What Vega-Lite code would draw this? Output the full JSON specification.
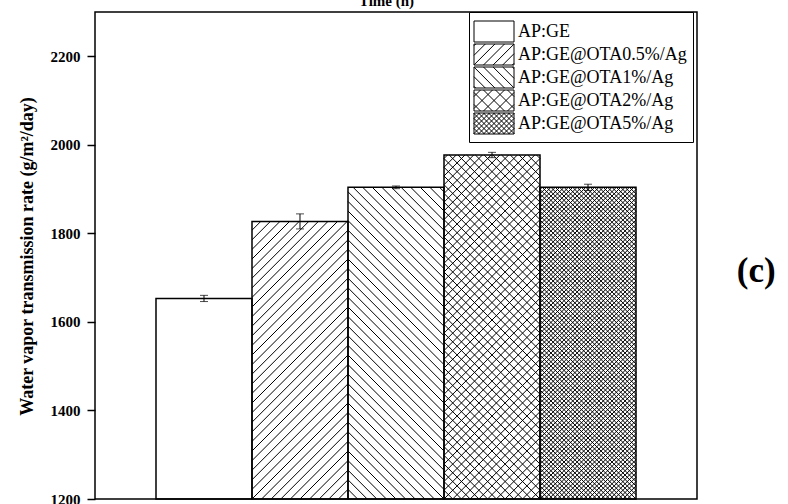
{
  "$schema": "https://vega.github.io/schema/vega-lite/v6.json",
  "width": 602,
  "height": 487,
  "autosize": "none",
  "padding": {"left": 95, "top": 12, "right": 91, "bottom": 5},
  "background": "white",
  "title": {"text": "(c)", "orient": "right", "anchor": "middle", "angle": 0, "align": "left", "baseline": "middle", "offset": 1, "dy": 15, "fontSize": 35, "font": "Liberation Serif", "fontWeight": "bold", "color": "black"},
  "data": {"values": [
    {"sample": "AP:GE", "value": 1653, "err": 7},
    {"sample": "AP:GE@OTA0.5%/Ag", "value": 1827, "err": 17},
    {"sample": "AP:GE@OTA1%/Ag", "value": 1904, "err": 3},
    {"sample": "AP:GE@OTA2%/Ag", "value": 1977, "err": 6},
    {"sample": "AP:GE@OTA5%/Ag", "value": 1904, "err": 7}
  ]},
  "config": {
    "font": "Liberation Serif",
    "view": {"stroke": "black", "strokeWidth": 1.5}
  },
  "resolve": {"scale": {"shape": "independent"}},
  "layer": [
    {
      "mark": {"type": "point", "filled": false, "stroke": "black", "strokeWidth": 1, "size": 4, "opacity": 1, "clip": true},
      "encoding": {
        "x": {"field": "sample", "type": "nominal", "sort": null, "title": "Time (h)",
          "scale": {"type": "band", "paddingInner": 0, "paddingOuter": 0.6354},
          "axis": {"orient": "top", "labels": false, "ticks": false, "domain": false, "grid": false, "titleFont": "Liberation Serif", "titleFontSize": 15, "titleFontWeight": "bold", "titleColor": "black", "titleX": 291, "titleY": -7, "titleBaseline": "alphabetic", "titleAlign": "center"}},
        "y": {"datum": 1200, "type": "quantitative", "title": "Water vapor transmission rate (g/m²/day)",
          "scale": {"domain": [1200, 2300], "nice": false, "zero": false}},
        "shape": {"field": "sample", "type": "nominal", "sort": null, "legend": null,
          "scale": {
            "range": [
              "M0,0",
              "M-48,-268.8l8.8,-8.8m-8.8,18.4l18.4,-18.4m-18.4,28l28,-28m-28,37.6l37.6,-37.6m-37.6,47.2l47.2,-47.2m-47.2,56.8l56.8,-56.8m-56.8,66.4l66.4,-66.4m-66.4,76l76,-76m-76,85.6l85.6,-85.6m-85.6,95.2l95.2,-95.2m-95.2,104.8l96,-96m-96,105.6l96,-96m-96,105.6l96,-96m-96,105.6l96,-96m-96,105.6l96,-96m-96,105.6l96,-96m-96,105.6l96,-96m-96,105.6l96,-96m-96,105.6l96,-96m-96,105.6l96,-96m-96,105.6l96,-96m-96,105.6l96,-96m-96,105.6l96,-96m-96,105.6l96,-96m-96,105.6l96,-96m-96,105.6l96,-96m-96,105.6l96,-96m-96,105.6l96,-96m-96,105.6l96,-96m-96,105.6l96,-96m-96,105.6l96,-96m-96,105.6l96,-96m-96,105.6l96,-96m-96,105.6l96,-96m-96,105.6l96,-96m-96,105.6l96,-96m-96,105.6l96,-96m-96,105.6l96,-96m-96,105.6l96,-96m-96,105.6l96,-96m-96,105.6l96,-96m-96,105.6l96,-96m-96,105.6",
              "M48,-307.2l-4.48,-4.48m4.48,14.08l-14.08,-14.08m14.08,23.68l-23.68,-23.68m23.68,33.28l-33.28,-33.28m33.28,42.88l-42.88,-42.88m42.88,52.48l-52.48,-52.48m52.48,62.08l-62.08,-62.08m62.08,71.68l-71.68,-71.68m71.68,81.28l-81.28,-81.28m81.28,90.88l-90.88,-90.88m90.88,100.48l-96,-96m96,105.6l-96,-96m96,105.6l-96,-96m96,105.6l-96,-96m96,105.6l-96,-96m96,105.6l-96,-96m96,105.6l-96,-96m96,105.6l-96,-96m96,105.6l-96,-96m96,105.6l-96,-96m96,105.6l-96,-96m96,105.6l-96,-96m96,105.6l-96,-96m96,105.6l-96,-96m96,105.6l-96,-96m96,105.6l-96,-96m96,105.6l-96,-96m96,105.6l-96,-96m96,105.6l-96,-96m96,105.6l-96,-96m96,105.6l-96,-96m96,105.6l-96,-96m96,105.6l-96,-96m96,105.6l-96,-96m96,105.6l-96,-96m96,105.6l-96,-96m96,105.6l-96,-96m96,105.6l-96,-96m96,105.6l-96,-96m96,105.6l-96,-96m96,105.6l-96,-96m96,105.6l-96,-96m96,105.6l-96,-96m96,105.6l-96,-96m96,105.6l-96,-96m96,105.6l-96,-96m96,105.6",
              "M-48,-340.5l3.5,-3.5m-3.5,12.23l12.23,-12.23m-12.23,20.96l20.96,-20.96m-20.96,29.69l29.69,-29.69m-29.69,38.42l38.42,-38.42m-38.42,47.15l47.15,-47.15m-47.15,55.88l55.88,-55.88m-55.88,64.61l64.61,-64.61m-64.61,73.34l73.34,-73.34m-73.34,82.07l82.07,-82.07m-82.07,90.8l90.8,-90.8m-90.8,99.53l96,-96m-96,104.73l96,-96m-96,104.73l96,-96m-96,104.73l96,-96m-96,104.73l96,-96m-96,104.73l96,-96m-96,104.73l96,-96m-96,104.73l96,-96m-96,104.73l96,-96m-96,104.73l96,-96m-96,104.73l96,-96m-96,104.73l96,-96m-96,104.73l96,-96m-96,104.73l96,-96m-96,104.73l96,-96m-96,104.73l96,-96m-96,104.73l96,-96m-96,104.73l96,-96m-96,104.73l96,-96m-96,104.73l96,-96m-96,104.73l96,-96m-96,104.73l96,-96m-96,104.73l96,-96m-96,104.73l96,-96m-96,104.73l96,-96m-96,104.73l96,-96m-96,104.73l96,-96m-96,104.73l96,-96m-96,104.73l96,-96m-96,104.73l96,-96m-96,104.73l96,-96m-96,104.73l96,-96m-96,104.73l96,-96m-96,104.73l96,-96m-96,104.73l96,-96m-96,104.73l96,-96m-96,104.73l96,-96m-96,104.73l96,-96m-96,104.73l96,-96m-96,104.73l96,-96m-96,104.73l96,-96m-96,104.73M48,-340.5l-3.5,-3.5m3.5,12.23l-12.23,-12.23m12.23,20.96l-20.96,-20.96m20.96,29.69l-29.69,-29.69m29.69,38.42l-38.42,-38.42m38.42,47.15l-47.15,-47.15m47.15,55.88l-55.88,-55.88m55.88,64.61l-64.61,-64.61m64.61,73.34l-73.34,-73.34m73.34,82.07l-82.07,-82.07m82.07,90.8l-90.8,-90.8m90.8,99.53l-96,-96m96,104.73l-96,-96m96,104.73l-96,-96m96,104.73l-96,-96m96,104.73l-96,-96m96,104.73l-96,-96m96,104.73l-96,-96m96,104.73l-96,-96m96,104.73l-96,-96m96,104.73l-96,-96m96,104.73l-96,-96m96,104.73l-96,-96m96,104.73l-96,-96m96,104.73l-96,-96m96,104.73l-96,-96m96,104.73l-96,-96m96,104.73l-96,-96m96,104.73l-96,-96m96,104.73l-96,-96m96,104.73l-96,-96m96,104.73l-96,-96m96,104.73l-96,-96m96,104.73l-96,-96m96,104.73l-96,-96m96,104.73l-96,-96m96,104.73l-96,-96m96,104.73l-96,-96m96,104.73l-96,-96m96,104.73l-96,-96m96,104.73l-96,-96m96,104.73l-96,-96m96,104.73l-96,-96m96,104.73l-96,-96m96,104.73l-96,-96m96,104.73l-96,-96m96,104.73l-96,-96m96,104.73l-96,-96m96,104.73l-96,-96m96,104.73l-96,-96m96,104.73l-96,-96m96,104.73l-96,-96m96,104.73l-96,-96m96,104.73",
              "M-48,-309.48l2.2,-2.2m-2.2,6.56l6.56,-6.56m-6.56,10.92l10.92,-10.92m-10.92,15.28l15.28,-15.28m-15.28,19.64l19.64,-19.64m-19.64,24l24,-24m-24,28.36l28.36,-28.36m-28.36,32.72l32.72,-32.72m-32.72,37.08l37.08,-37.08m-37.08,41.44l41.44,-41.44m-41.44,45.8l45.8,-45.8m-45.8,50.16l50.16,-50.16m-50.16,54.52l54.52,-54.52m-54.52,58.88l58.88,-58.88m-58.88,63.24l63.24,-63.24m-63.24,67.6l67.6,-67.6m-67.6,71.96l71.96,-71.96m-71.96,76.32l76.32,-76.32m-76.32,80.68l80.68,-80.68m-80.68,85.04l85.04,-85.04m-85.04,89.4l89.4,-89.4m-89.4,93.76l93.76,-93.76m-93.76,98.12l96,-96m-96,100.36l96,-96m-96,100.36l96,-96m-96,100.36l96,-96m-96,100.36l96,-96m-96,100.36l96,-96m-96,100.36l96,-96m-96,100.36l96,-96m-96,100.36l96,-96m-96,100.36l96,-96m-96,100.36l96,-96m-96,100.36l96,-96m-96,100.36l96,-96m-96,100.36l96,-96m-96,100.36l96,-96m-96,100.36l96,-96m-96,100.36l96,-96m-96,100.36l96,-96m-96,100.36l96,-96m-96,100.36l96,-96m-96,100.36l96,-96m-96,100.36l96,-96m-96,100.36l96,-96m-96,100.36l96,-96m-96,100.36l96,-96m-96,100.36l96,-96m-96,100.36l96,-96m-96,100.36l96,-96m-96,100.36l96,-96m-96,100.36l96,-96m-96,100.36l96,-96m-96,100.36l96,-96m-96,100.36l96,-96m-96,100.36l96,-96m-96,100.36l96,-96m-96,100.36l96,-96m-96,100.36l96,-96m-96,100.36l96,-96m-96,100.36l96,-96m-96,100.36l96,-96m-96,100.36l96,-96m-96,100.36l96,-96m-96,100.36l96,-96m-96,100.36l96,-96m-96,100.36l96,-96m-96,100.36l96,-96m-96,100.36l96,-96m-96,100.36l96,-96m-96,100.36l96,-96m-96,100.36l96,-96m-96,100.36l96,-96m-96,100.36l96,-96m-96,100.36l96,-96m-96,100.36l96,-96m-96,100.36l96,-96m-96,100.36l96,-96m-96,100.36l96,-96m-96,100.36l96,-96m-96,100.36l96,-96m-96,100.36l96,-96m-96,100.36l96,-96m-96,100.36l96,-96m-96,100.36l96,-96m-96,100.36l96,-96m-96,100.36l96,-96m-96,100.36l96,-96m-96,100.36l96,-96m-96,100.36l96,-96m-96,100.36l96,-96m-96,100.36l96,-96m-96,100.36M48,-309.48l-2.2,-2.2m2.2,6.56l-6.56,-6.56m6.56,10.92l-10.92,-10.92m10.92,15.28l-15.28,-15.28m15.28,19.64l-19.64,-19.64m19.64,24l-24,-24m24,28.36l-28.36,-28.36m28.36,32.72l-32.72,-32.72m32.72,37.08l-37.08,-37.08m37.08,41.44l-41.44,-41.44m41.44,45.8l-45.8,-45.8m45.8,50.16l-50.16,-50.16m50.16,54.52l-54.52,-54.52m54.52,58.88l-58.88,-58.88m58.88,63.24l-63.24,-63.24m63.24,67.6l-67.6,-67.6m67.6,71.96l-71.96,-71.96m71.96,76.32l-76.32,-76.32m76.32,80.68l-80.68,-80.68m80.68,85.04l-85.04,-85.04m85.04,89.4l-89.4,-89.4m89.4,93.76l-93.76,-93.76m93.76,98.12l-96,-96m96,100.36l-96,-96m96,100.36l-96,-96m96,100.36l-96,-96m96,100.36l-96,-96m96,100.36l-96,-96m96,100.36l-96,-96m96,100.36l-96,-96m96,100.36l-96,-96m96,100.36l-96,-96m96,100.36l-96,-96m96,100.36l-96,-96m96,100.36l-96,-96m96,100.36l-96,-96m96,100.36l-96,-96m96,100.36l-96,-96m96,100.36l-96,-96m96,100.36l-96,-96m96,100.36l-96,-96m96,100.36l-96,-96m96,100.36l-96,-96m96,100.36l-96,-96m96,100.36l-96,-96m96,100.36l-96,-96m96,100.36l-96,-96m96,100.36l-96,-96m96,100.36l-96,-96m96,100.36l-96,-96m96,100.36l-96,-96m96,100.36l-96,-96m96,100.36l-96,-96m96,100.36l-96,-96m96,100.36l-96,-96m96,100.36l-96,-96m96,100.36l-96,-96m96,100.36l-96,-96m96,100.36l-96,-96m96,100.36l-96,-96m96,100.36l-96,-96m96,100.36l-96,-96m96,100.36l-96,-96m96,100.36l-96,-96m96,100.36l-96,-96m96,100.36l-96,-96m96,100.36l-96,-96m96,100.36l-96,-96m96,100.36l-96,-96m96,100.36l-96,-96m96,100.36l-96,-96m96,100.36l-96,-96m96,100.36l-96,-96m96,100.36l-96,-96m96,100.36l-96,-96m96,100.36l-96,-96m96,100.36l-96,-96m96,100.36l-96,-96m96,100.36l-96,-96m96,100.36l-96,-96m96,100.36l-96,-96m96,100.36l-96,-96m96,100.36l-96,-96m96,100.36l-96,-96m96,100.36l-96,-96m96,100.36l-96,-96m96,100.36l-96,-96m96,100.36l-96,-96m96,100.36l-96,-96m96,100.36l-96,-96m96,100.36l-96,-96m96,100.36l-96,-96m96,100.36l-96,-96m96,100.36l-96,-96m96,100.36l-96,-96m96,100.36l-96,-96m96,100.36l-96,-96m96,100.36"
            ]
          }
        }
      }
    },
    {
      "mark": {"type": "bar", "fill": "transparent", "stroke": "black", "strokeWidth": 1.5},
      "encoding": {
        "x": {"field": "sample", "type": "nominal", "sort": null, "title": "Time (h)",
          "scale": {"type": "band", "paddingInner": 0, "paddingOuter": 0.6354},
          "axis": {"orient": "top", "labels": false, "ticks": false, "domain": false, "grid": false, "titleFont": "Liberation Serif", "titleFontSize": 15, "titleFontWeight": "bold", "titleColor": "black", "titleX": 291, "titleY": -7, "titleBaseline": "alphabetic", "titleAlign": "center"}},
        "y": {"field": "value", "type": "quantitative", "title": "Water vapor transmission rate (g/m²/day)",
          "scale": {"domain": [1200, 2300], "nice": false, "zero": false},
          "axis": {"values": [1200, 1400, 1600, 1800, 2000, 2200], "format": "d", "domain": false, "grid": false, "tickSize": 8, "tickWidth": 1.5, "tickColor": "black", "labelFont": "Liberation Serif", "labelFontSize": 15, "labelFontWeight": "bold", "labelColor": "black", "labelPadding": 7, "labelOverlap": false, "labelFlush": false, "titleFont": "Liberation Serif", "titleFontSize": 18, "titleFontWeight": "bold", "titleColor": "black", "titleX": -63, "titleY": 244, "titleAngle": -90, "titleBaseline": "alphabetic", "titleAlign": "center"}},
        "y2": {"datum": 1200}
      }
    },
    {
      "mark": {"type": "errorbar", "color": "black", "thickness": 1, "ticks": {"size": 8, "color": "black", "thickness": 1}},
      "encoding": {
        "x": {"field": "sample", "type": "nominal", "sort": null, "title": "Time (h)",
          "scale": {"type": "band", "paddingInner": 0, "paddingOuter": 0.6354}},
        "y": {"field": "value", "type": "quantitative", "title": "Water vapor transmission rate (g/m²/day)",
          "scale": {"domain": [1200, 2300], "nice": false, "zero": false}},
        "yError": {"field": "err"}
      }
    },
    {
      "mark": {"type": "point", "filled": false, "stroke": "black", "strokeWidth": 1, "size": 4, "opacity": 1, "clip": true},
      "encoding": {
        "x": {"field": "sample", "type": "nominal", "sort": null, "title": "Time (h)",
          "scale": {"type": "band", "paddingInner": 0, "paddingOuter": 0.6354}},
        "y": {"datum": 2450, "type": "quantitative", "title": "Water vapor transmission rate (g/m²/day)",
          "scale": {"domain": [1200, 2300], "nice": false, "zero": false}},
        "shape": {"field": "sample", "type": "nominal", "sort": null,
          "scale": {
            "range": [
              "M-20,-10.5H20V10.5H-20Z",
              "M-20,-10.5H20V10.5H-20ZM-20,-8.8L-18.3,-10.5M-20,0.8L-8.7,-10.5M-20,10.4L0.9,-10.5M-10.5,10.5L10.5,-10.5M-0.9,10.5L20,-10.4M8.7,10.5L20,-0.8M18.3,10.5L20,8.8",
              "M-20,-10.5H20V10.5H-20ZM20,-8.8L18.3,-10.5M20,0.8L8.7,-10.5M20,10.4L-0.9,-10.5M10.5,10.5L-10.5,-10.5M0.9,10.5L-20,-10.4M-8.7,10.5L-20,-0.8M-18.3,10.5L-20,8.8",
              "M-20,-10.5H20V10.5H-20ZM-20,-4L-13.5,-10.5M-20,8L-1.5,-10.5M-10.5,10.5L10.5,-10.5M1.5,10.5L20,-8M13.5,10.5L20,4M20,-4L13.5,-10.5M20,8L1.5,-10.5M10.5,10.5L-10.5,-10.5M-1.5,10.5L-20,-8M-13.5,10.5L-20,4",
              "M-20,-10.5H20V10.5H-20ZM-20,-10L-19.5,-10.5M-20,-5L-14.5,-10.5M-20,0L-9.5,-10.5M-20,5L-4.5,-10.5M-20,10L0.5,-10.5M-15.5,10.5L5.5,-10.5M-10.5,10.5L10.5,-10.5M-5.5,10.5L15.5,-10.5M-0.5,10.5L20,-10M4.5,10.5L20,-5M9.5,10.5L20,0M14.5,10.5L20,5M19.5,10.5L20,10M20,-10L19.5,-10.5M20,-5L14.5,-10.5M20,0L9.5,-10.5M20,5L4.5,-10.5M20,10L-0.5,-10.5M15.5,10.5L-5.5,-10.5M10.5,10.5L-10.5,-10.5M5.5,10.5L-15.5,-10.5M0.5,10.5L-20,-10M-4.5,10.5L-20,-5M-9.5,10.5L-20,0M-14.5,10.5L-20,5M-19.5,10.5L-20,10"
            ]
          },
          "legend": {
            "orient": "none", "legendX": 374, "legendY": 0,
            "title": " ", "titleFontSize": 3, "titlePadding": 1.5,
            "padding": 6, "strokeColor": "black", "fillColor": "white",
            "symbolSize": 4, "symbolOffset": 10, "labelOffset": 15, "rowPadding": -3,
            "symbolStrokeColor": "black", "symbolStrokeWidth": 1, "symbolFillColor": "white",
            "labelFont": "Liberation Serif", "labelFontSize": 18, "labelColor": "black", "labelLimit": 0
          }
        }
      }
    }
  ]
}
